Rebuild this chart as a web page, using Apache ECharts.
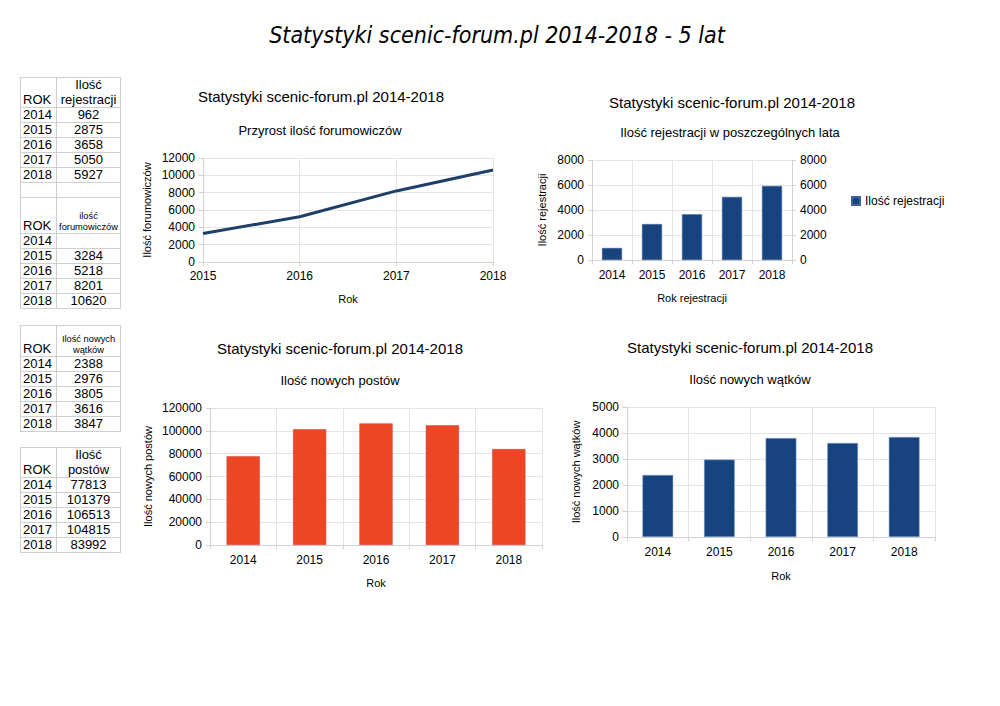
<!DOCTYPE html>
<html>
<head>
    <meta charset="utf-8">
    <title>Statystyki scenic-forum.pl 2014-2018</title>
    <script type="text/javascript" src="https://cdn.jsdelivr.net/npm/echarts@6/dist/echarts.min.js"></script>
    <style>
        body { margin: 0; padding: 0; background: #fff; }
        #main { position: absolute; left: 0; top: 0; width: 1000px; height: 706px; }
        table.sheet { position: absolute; left: 20px; width: 100px; table-layout: fixed; border-collapse: collapse; font: 13px "Liberation Sans", Arial, sans-serif; color: #000; z-index: 2; }
        table.sheet td { border: 1px solid #cfcfcf; padding: 0 2px; line-height: 14px; height: 14px; overflow: hidden; white-space: nowrap; }
        table.sheet td.k { text-align: left; }
        table.sheet td.v { text-align: center; padding: 0; }
        table.sheet tr.head td { vertical-align: bottom; }
    </style>
</head>

<body>
    <div id="main"></div>
    <div id="tables"></div>
    <script type="text/javascript">
    // dane z arkusza
    var years = ['2014', '2015', '2016', '2017', '2018'];
    var rejestracje = [962, 2875, 3658, 5050, 5927];
    var forumYears = ['2015', '2016', '2017', '2018'];
    var forumowicze = [3284, 5218, 8201, 10620];
    var watki = [2388, 2976, 3805, 3616, 3847];
    var posty = [77813, 101379, 106513, 104815, 83992];

    var FONT = '"Liberation Sans", Arial, sans-serif';
    var GRID_COLOR = '#e4e4e4';
    var AXIS_COLOR = '#d2d2d2';

    // tabelki po lewej
    function headRow(h, label, size) {
        return '<tr class="head" style="height:' + h + 'px"><td class="k">ROK</td>' +
            '<td class="v" style="font-size:' + size + 'px;line-height:' + (size + 1.5) + 'px">' + label + '</td></tr>';
    }
    function dataRows(vals) {
        var s = '';
        for (var i = 0; i < years.length; i++) {
            s += '<tr><td class="k">' + years[i] + '</td><td class="v">' + (vals[i] == null ? '' : vals[i]) + '</td></tr>';
        }
        return s;
    }
    // 2014 nie ma wartości w tabeli forumowiczów
    var forumAll = years.map(function(y) {
        var idx = forumYears.indexOf(y);
        return idx < 0 ? null : forumowicze[idx];
    });

    var cols = '<colgroup><col style="width:36px"><col style="width:64px"></colgroup>';
    var html = '';
    html += '<table class="sheet" style="top:77px">' + cols +
        headRow(29, 'Ilość<br>rejestracji', 13) + dataRows(rejestracje) +
        '<tr style="height:15px"><td class="k"></td><td class="v"></td></tr>' +
        headRow(36, 'ilość<br>forumowiczów', 9.3) + dataRows(forumAll) + '</table>';
    html += '<table class="sheet" style="top:325px">' + cols +
        headRow(31, 'Ilość nowych<br>wątków', 9.3) + dataRows(watki) + '</table>';
    html += '<table class="sheet" style="top:447px">' + cols +
        headRow(30, 'Ilość<br>postów', 13) + dataRows(posty) + '</table>';
    document.getElementById('tables').innerHTML = html;

    var myChart = echarts.init(document.getElementById('main'), null, { renderer: 'svg' });

    function xAxisOf(gridIndex, data, name, gap, boundary, margin) {
        return {
            type: 'category',
            gridIndex: gridIndex,
            data: data,
            boundaryGap: boundary,
            name: name,
            nameLocation: 'middle',
            nameGap: gap,
            nameTextStyle: { fontSize: 11, color: '#000', fontFamily: FONT },
            axisLine: { lineStyle: { color: AXIS_COLOR } },
            axisTick: { show: true, length: 4, lineStyle: { color: AXIS_COLOR } },
            axisLabel: { color: '#000', fontSize: 12, margin: margin, fontFamily: FONT },
            splitLine: { show: true, lineStyle: { color: GRID_COLOR } }
        };
    }
    function yAxisOf(gridIndex, max, interval, name, gap, pos) {
        return {
            type: 'value',
            gridIndex: gridIndex,
            position: pos || 'left',
            min: 0,
            max: max,
            interval: interval,
            name: name,
            nameLocation: 'middle',
            nameGap: gap,
            nameTextStyle: { fontSize: 11, color: '#000', fontFamily: FONT },
            axisLine: { show: true, lineStyle: { color: AXIS_COLOR } },
            axisTick: { show: true, length: 4, lineStyle: { color: AXIS_COLOR } },
            axisLabel: {
                color: '#000', fontSize: 12, margin: 8, fontFamily: FONT,
                formatter: function(v) { return String(v); }
            },
            splitLine: { show: !pos, lineStyle: { color: GRID_COLOR } }
        };
    }
    function label(text, x, y, size, extra) {
        return {
            type: 'text',
            x: x,
            y: y,
            style: {
                text: text,
                align: 'center',
                verticalAlign: 'middle',
                fill: '#000',
                font: (extra || '') + size + 'px ' + (extra ? '"DejaVu Sans Condensed", "DejaVu Sans", sans-serif' : FONT)
            }
        };
    }

    var tytul = 'Statystyki scenic-forum.pl 2014-2018';

    option = {
        animation: false,
        textStyle: { fontFamily: FONT },
        tooltip: {},
        grid: [
            { left: 203, top: 158, width: 290, height: 104 },
            { left: 592, top: 160, width: 200, height: 100 },
            { left: 210, top: 408, width: 332, height: 137 },
            { left: 627, top: 407, width: 308, height: 130 }
        ],
        legend: {
            data: ['Ilość rejestracji'],
            left: 846,
            top: 190,
            icon: 'rect',
            itemWidth: 8,
            itemHeight: 8,
            itemGap: 5,
            textStyle: { fontSize: 12, color: '#000', fontFamily: FONT }
        },
        graphic: [
            label(tytul + ' - 5 lat', 497, 35, 23, 'italic '),
            label(tytul, 321, 96, 15),
            label('Przyrost ilość forumowiczów', 320, 130, 13),
            label(tytul, 732, 102, 15),
            label('Ilość rejestracji w poszczególnych lata', 730, 132, 13),
            label(tytul, 340, 348, 15),
            label('Ilość nowych postów', 340, 380, 13),
            label(tytul, 750, 347, 15),
            label('Ilość nowych wątków', 750, 379, 13)
        ],
        xAxis: [
            xAxisOf(0, forumYears, 'Rok', 31, false, 8),
            xAxisOf(1, years, 'Rok rejestracji', 32, true, 9),
            xAxisOf(2, years, 'Rok', 32, true, 9),
            xAxisOf(3, years, 'Rok', 33, true, 9)
        ],
        yAxis: [
            yAxisOf(0, 12000, 2000, 'Ilość forumowiczów', 51),
            yAxisOf(1, 8000, 2000, 'Ilość rejestracji', 45),
            yAxisOf(1, 8000, 2000, '', 0, 'right'),
            yAxisOf(2, 120000, 20000, 'Ilość nowych postów', 57),
            yAxisOf(3, 5000, 1000, 'Ilość nowych wątków', 46)
        ],
        series: [{
            name: 'Ilość forumowiczów',
            type: 'line',
            xAxisIndex: 0,
            yAxisIndex: 0,
            data: forumowicze,
            showSymbol: false,
            lineStyle: { color: '#1d3f68', width: 3 },
            itemStyle: { color: '#1d3f68' }
        }, {
            name: 'Ilość rejestracji',
            type: 'bar',
            xAxisIndex: 1,
            yAxisIndex: 1,
            data: rejestracje,
            barWidth: '50%',
            itemStyle: { color: '#17437f', borderColor: '#3e6398', borderWidth: 0.5 }
        }, {
            name: 'Ilość nowych postów',
            type: 'bar',
            xAxisIndex: 2,
            yAxisIndex: 3,
            data: posty,
            barWidth: '50%',
            itemStyle: { color: '#ee4524', borderColor: '#c4452e', borderWidth: 0.5 }
        }, {
            name: 'Ilość nowych wątków',
            type: 'bar',
            xAxisIndex: 3,
            yAxisIndex: 4,
            data: watki,
            barWidth: '50%',
            itemStyle: { color: '#17437f', borderColor: '#8fb0d8', borderWidth: 0.5 }
        }]
    };

    myChart.setOption(option);
    </script>
</body>

</html>
